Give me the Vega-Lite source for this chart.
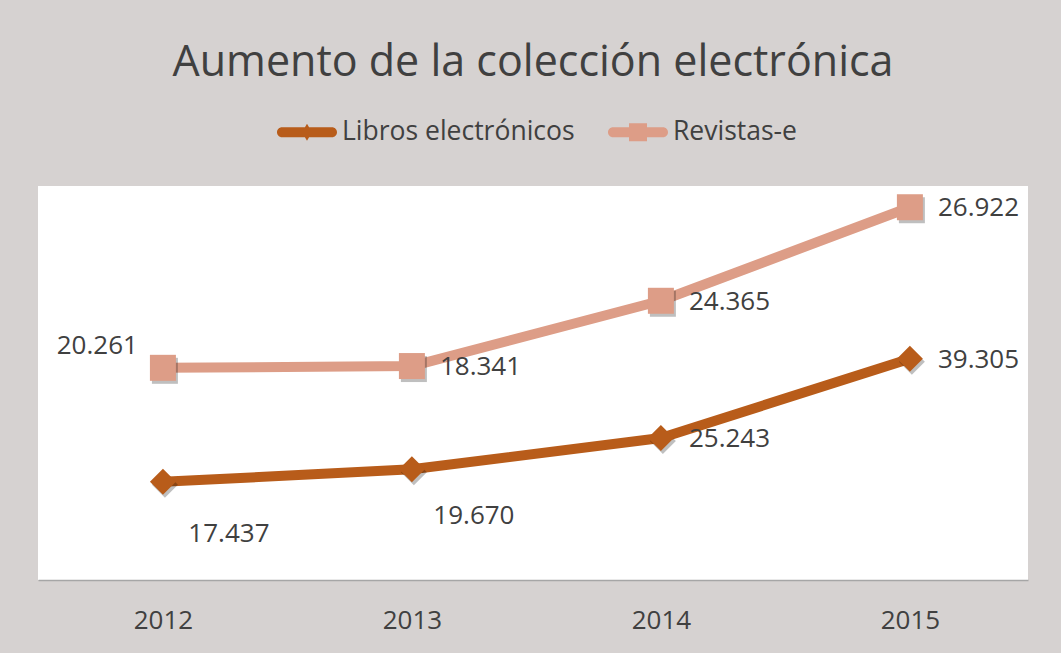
{
  "$schema": "https://vega.github.io/schema/vega-lite/v6.json",
  "width": 990,
  "height": 394,
  "autosize": {"type": "none"},
  "padding": {"left": 38, "top": 186, "right": 33, "bottom": 73},
  "background": "#d6d2d1",
  "title": {
    "text": "Aumento de la colección electrónica",
    "font": "Open Sans",
    "fontSize": 43,
    "fontWeight": "normal",
    "color": "#404040",
    "anchor": "middle",
    "frame": "group",
    "offset": 17
  },
  "data": {
    "values": [
      {"year": "2012", "series": "Libros electrónicos", "value": 17437},
      {"year": "2013", "series": "Libros electrónicos", "value": 19670},
      {"year": "2014", "series": "Libros electrónicos", "value": 25243},
      {"year": "2015", "series": "Libros electrónicos", "value": 39305},
      {"year": "2012", "series": "Revistas-e", "value": 20261},
      {"year": "2013", "series": "Revistas-e", "value": 18341},
      {"year": "2014", "series": "Revistas-e", "value": 24365},
      {"year": "2015", "series": "Revistas-e", "value": 26922}
    ]
  },
  "transform": [
    {"stack": "value", "groupby": ["year"], "sort": [{"field": "series", "order": "ascending"}], "as": ["v0", "v1"]}
  ],
  "encoding": {
    "x": {
      "field": "year",
      "type": "ordinal",
      "scale": {"type": "point", "padding": 0.488, "align": 0.514},
      "axis": {
        "title": null,
        "labelAngle": 0,
        "labelFont": "Open Sans",
        "labelFontSize": 26,
        "labelColor": "#404040",
        "labelPadding": 27,
        "ticks": false,
        "grid": false,
        "domain": true,
        "domainColor": "#a6a6a6",
        "domainWidth": 1.5
      }
    },
    "y": {
      "field": "v1",
      "type": "quantitative",
      "scale": {"domain": [0, 70000], "nice": false, "zero": true},
      "axis": null
    }
  },
  "layer": [
    {
      "transform": [{"filter": "datum.series === 'Libros electrónicos'"}],
      "mark": {"type": "line", "strokeWidth": 10, "strokeJoin": "round", "strokeCap": "butt", "color": "#b85c1a"},
      "encoding": {}
    },
    {
      "transform": [{"filter": "datum.series === 'Revistas-e'"}],
      "mark": {"type": "line", "strokeWidth": 10, "strokeJoin": "round", "strokeCap": "butt", "color": "#dd9d87"},
      "encoding": {}
    },
    {
      "mark": {"type": "point", "filled": true, "size": 1},
      "encoding": {
        "color": {
          "field": "series",
          "type": "nominal",
          "scale": {"domain": ["Libros electrónicos", "Revistas-e"], "range": ["#b85c1a", "#dd9d87"]},
          "legend": {
            "title": null,
            "orient": "none",
            "direction": "horizontal",
            "legendX": 239,
            "legendY": -84,
            "padding": 0,
            "labelFont": "Open Sans",
            "labelFontSize": 26.5,
            "labelColor": "#404040",
            "labelOffset": 5,
            "columnPadding": 33,
            "symbolSize": 3600,
            "symbolStrokeWidth": 0,
            "symbolOpacity": 1,
            "labelLimit": 400
          }
        },
        "shape": {
          "field": "series",
          "type": "nominal",
          "scale": {
            "domain": ["Libros electrónicos", "Revistas-e"],
            "range": [
              "M-0.833,-0.167H0.833A0.167,0.167 0 0 1 0.833,0.167H-0.833A0.167,0.167 0 0 1 -0.833,-0.167Z M-0.167,0L0,-0.283L0.167,0L0,0.283Z",
              "M-0.833,-0.167H0.833A0.167,0.167 0 0 1 0.833,0.167H-0.833A0.167,0.167 0 0 1 -0.833,-0.167Z M-0.3,-0.3H0.3V0.3H-0.3Z"
            ]
          },
          "legend": {
            "title": null,
            "orient": "none",
            "direction": "horizontal",
            "legendX": 239,
            "legendY": -84,
            "padding": 0,
            "labelFont": "Open Sans",
            "labelFontSize": 26.5,
            "labelColor": "#404040",
            "labelOffset": 5,
            "columnPadding": 33,
            "symbolSize": 3600,
            "symbolStrokeWidth": 0,
            "symbolOpacity": 1,
            "labelLimit": 400
          }
        }
      }
    },
    {
      "transform": [{"filter": "datum.series === 'Libros electrónicos'"}],
      "mark": {"type": "point", "shape": "diamond", "filled": true, "size": 676, "opacity": 0.25, "color": "#000000", "xOffset": 2, "yOffset": 3}
    },
    {
      "transform": [{"filter": "datum.series === 'Revistas-e'"}],
      "mark": {"type": "point", "shape": "square", "filled": true, "size": 676, "opacity": 0.25, "color": "#000000", "xOffset": 2, "yOffset": 3}
    },
    {
      "transform": [{"filter": "datum.series === 'Libros electrónicos'"}],
      "mark": {"type": "point", "shape": "diamond", "filled": true, "size": 676, "opacity": 1, "color": "#b85c1a"}
    },
    {
      "transform": [{"filter": "datum.series === 'Revistas-e'"}],
      "mark": {"type": "point", "shape": "square", "filled": true, "size": 676, "opacity": 1, "color": "#dd9d87"}
    },
    {
      "transform": [
        {"filter": "!(datum.series === 'Libros electrónicos' && (datum.year === '2012' || datum.year === '2013')) && !(datum.series === 'Revistas-e' && datum.year === '2012')"}
      ],
      "mark": {"type": "text", "font": "Open Sans", "fontSize": 26, "color": "#404040", "align": "left", "baseline": "middle", "dx": 28, "dy": 1},
      "encoding": {
        "text": {"field": "value", "type": "quantitative", "format": ",d"}
      }
    },
    {
      "transform": [
        {"filter": "datum.series === 'Libros electrónicos' && datum.year === '2012'"}
      ],
      "mark": {"type": "text", "font": "Open Sans", "fontSize": 26, "color": "#404040", "align": "center", "baseline": "middle", "dx": 66, "dy": 52},
      "encoding": {
        "text": {"field": "value", "type": "quantitative", "format": ",d"}
      }
    },
    {
      "transform": [
        {"filter": "datum.series === 'Libros electrónicos' && datum.year === '2013'"}
      ],
      "mark": {"type": "text", "font": "Open Sans", "fontSize": 26, "color": "#404040", "align": "center", "baseline": "middle", "dx": 62, "dy": 47},
      "encoding": {
        "text": {"field": "value", "type": "quantitative", "format": ",d"}
      }
    },
    {
      "transform": [
        {"filter": "datum.series === 'Revistas-e' && datum.year === '2012'"}
      ],
      "mark": {"type": "text", "font": "Open Sans", "fontSize": 26, "color": "#404040", "align": "right", "baseline": "middle", "dx": -25, "dy": -22},
      "encoding": {
        "text": {"field": "value", "type": "quantitative", "format": ",d"}
      }
    }
  ],
  "config": {
    "locale": {"number": {"decimal": ",", "thousands": ".", "grouping": [3], "currency": ["", " €"]}},
    "view": {"fill": "#ffffff", "stroke": null}
  }
}
